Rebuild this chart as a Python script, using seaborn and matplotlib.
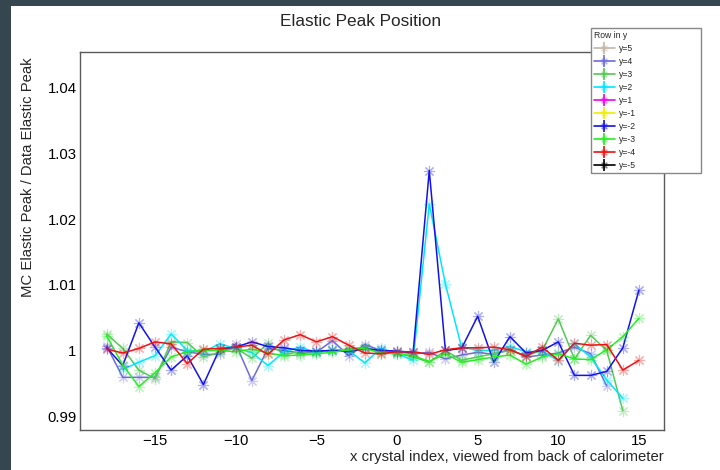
import matplotlib
matplotlib.use("Agg")
import matplotlib.pyplot as plt
import seaborn as sns
from matplotlib.colors import to_rgba
from matplotlib.lines import Line2D
from matplotlib.patches import Rectangle
from matplotlib.ticker import MultipleLocator, FuncFormatter
from matplotlib.legend_handler import HandlerTuple

# ---- data: MC / data elastic peak ratio per crystal, one list per row ----
rows = ["y=5", "y=4", "y=3", "y=2", "y=1", "y=-1", "y=-2", "y=-3", "y=-4", "y=-5"]
row_colors = ["#c4b6a6", "#6b6be0", "#55c855", "#00e6ff", "#ee00ee",
              "#eeee00", "#1212ee", "#22ee22", "#ee1111", "#000000"]

x_row5 = []
ratio_row5 = []

x_row4 = list(range(-18, 14))
ratio_row4 = [1.0007, 0.9959, 0.9959, 0.9959, 1.0005, 0.9998, 0.9994, 0.9994,
              1.0010, 0.9954, 1.0003, 1.0000, 0.9996, 0.9997, 1.0015, 0.9992,
              1.0009, 1.0000, 0.9998, 0.9995, 0.9997, 0.9987, 0.9993, 0.9997,
              0.9994, 1.0002, 0.9990, 0.9993, 0.9996, 1.0005, 0.9995, 0.9946]

x_row3 = list(range(-18, 15))
ratio_row3 = [1.0025, 1.0003, 0.9970, 0.9957, 1.0013, 1.0012, 0.9990, 0.9997,
              1.0004, 0.9988, 1.0011, 0.9994, 0.9998, 0.9998, 1.0000, 1.0002,
              1.0005, 0.9998, 0.9996, 0.9990, 0.9982, 1.0000, 0.9985, 0.9990,
              0.9995, 1.0000, 0.9992, 1.0000, 1.0048, 0.9987, 1.0023, 1.0000,
              0.9908]

x_row2 = list(range(-17, 15))
ratio_row2 = [0.9971, 0.9982, 0.9992, 1.0025, 1.0000, 0.9998, 1.0010, 1.0003,
              0.9997, 0.9977, 0.9998, 1.0005, 0.9997, 1.0000, 1.0000, 0.9981,
              1.0003, 0.9995, 0.9985, 1.0223, 1.0101, 1.0005, 1.0000, 1.0000,
              1.0006, 0.9998, 0.9999, 0.9984, 1.0010, 0.9990, 0.9955, 0.9927]

x_row1 = []
ratio_row1 = []

x_rowm1 = []
ratio_rowm1 = []

x_rowm2 = list(range(-18, 16))
ratio_rowm2 = [1.0004, 0.9977, 1.0042, 1.0005, 0.9970, 0.9992, 0.9948, 1.0002,
               1.0005, 1.0013, 1.0006, 1.0004, 1.0000, 0.9999, 1.0000, 0.9998,
               1.0003, 1.0000, 0.9999, 0.9997, 1.0274, 1.0000, 1.0003, 1.0052,
               0.9982, 1.0021, 0.9996, 1.0000, 1.0013, 0.9962, 0.9962, 0.9968,
               1.0004, 1.0092]

x_rowm3 = list(range(-18, 16))
ratio_rowm3 = [1.0022, 0.9978, 0.9945, 0.9966, 0.9990, 0.9998, 1.0000, 1.0000,
               0.9998, 1.0002, 0.9996, 0.9992, 0.9993, 0.9995, 0.9997, 1.0001,
               1.0003, 0.9996, 0.9995, 0.9992, 0.9983, 0.9995, 0.9982, 0.9986,
               0.9990, 0.9993, 0.9979, 0.9990, 0.9995, 0.9987, 0.9986, 1.0001,
               1.0021, 1.0049]

x_rowm4 = list(range(-18, 16))
ratio_rowm4 = [1.0002, 0.9996, 1.0003, 1.0013, 1.0010, 0.9980, 1.0002, 1.0003,
               1.0005, 1.0008, 0.9994, 1.0016, 1.0024, 1.0013, 1.0021, 1.0008,
               0.9996, 0.9995, 0.9998, 0.9998, 0.9994, 1.0001, 1.0004, 1.0004,
               1.0005, 1.0001, 0.9991, 1.0005, 0.9985, 1.0011, 1.0008, 1.0009,
               0.9970, 0.9985]

x_rowm5 = []
ratio_rowm5 = []

series_x = [x_row5, x_row4, x_row3, x_row2, x_row1,
            x_rowm1, x_rowm2, x_rowm3, x_rowm4, x_rowm5]
series_y = [ratio_row5, ratio_row4, ratio_row3, ratio_row2, ratio_row1,
            ratio_rowm1, ratio_rowm2, ratio_rowm3, ratio_rowm4, ratio_rowm5]

# ---- styling ----
sns.set_style("white")
plt.rcParams["font.family"] = ["Liberation Sans", "DejaVu Sans"]

W, H = 720, 470
fig = plt.figure(figsize=(W / 100, H / 100), dpi=100, facecolor="#36464f")
fig.add_artist(Rectangle((11 / W, 0), 1 - 11 / W, 1 - 6 / H,
                         transform=fig.transFigure, facecolor="white",
                         edgecolor="none", zorder=-10))

ax_left, ax_right, ax_top, ax_bottom = 80, 664, 52, 430
ax = fig.add_axes([ax_left / W, 1 - ax_bottom / H,
                   (ax_right - ax_left) / W, (ax_bottom - ax_top) / H])
ax.set_facecolor("white")

star = (8, 2, 0)
for xs, ys, c in zip(series_x, series_y, row_colors):
    if len(xs) == 0:
        continue
    sns.lineplot(x=xs, y=ys, ax=ax, color=c, lw=1.1, marker=star,
                 markersize=8, mec=to_rgba(c, 0.35), mew=0.8,
                 sort=False, estimator=None, legend=False)

ax.set_xlim(-19.65, 16.55)
ax.set_ylim(0.98788, 1.04545)

frame_col = "#5a5a5a"
for s in ax.spines.values():
    s.set_color(frame_col)
    s.set_linewidth(1.0)

ax.xaxis.set_major_locator(MultipleLocator(5))
ax.xaxis.set_minor_locator(MultipleLocator(1))
ax.yaxis.set_major_locator(MultipleLocator(0.01))
ax.yaxis.set_minor_locator(MultipleLocator(0.002))
ax.yaxis.set_major_formatter(FuncFormatter(lambda v, p: f"{round(v, 4):g}"))

ax.tick_params(which="both", direction="in", color=frame_col, width=1,
               top=False, right=False, labelsize=10.7, labelcolor="black")
ax.tick_params(axis="x", which="major", length=8.6, pad=3)
ax.tick_params(axis="x", which="minor", length=4.3)
ax.tick_params(axis="y", which="major", length=13, pad=2.5)
ax.tick_params(axis="y", which="minor", length=7)

ax.set_xlabel("x crystal index, viewed from back of calorimeter",
              fontsize=10.7, loc="right")
ax.xaxis.set_label_coords(1.0, -0.053)
ax.set_ylabel("MC Elastic Peak / Data Elastic Peak", fontsize=10.7, loc="top")
ax.yaxis.set_label_coords(-0.077, 0.985)

fig.text(361 / W, 1 - 21 / H, "Elastic Peak Position", ha="center",
         va="center", fontsize=12.4)

# legend with marker + error-bar glyph per row
handles = []
for c in row_colors:
    ln = Line2D([0], [0], color=c, lw=1.2, marker=star, markersize=5.5,
                mec=to_rgba(c, 0.5), mew=0.8)
    eb = Line2D([0], [0], ls="none", marker="|", markersize=8, mew=1.2,
                color=c)
    handles.append((ln, eb))

leg_l, leg_r, leg_t = 591, 701, 28
leg = fig.legend(handles, rows, loc="upper left",
                 bbox_to_anchor=(leg_l / W, 0, (leg_r - leg_l) / W, 1 - leg_t / H),
                 bbox_transform=fig.transFigure, mode="expand",
                 title="Row in y", title_fontsize=6.2, fontsize=6.2,
                 alignment="left", fancybox=False, framealpha=1,
                 edgecolor="#888888", borderpad=0.3, labelspacing=0.47,
                 handlelength=2.5, handletextpad=0.4, borderaxespad=0,
                 handler_map={tuple: HandlerTuple(ndivide=1)})
leg.get_frame().set_linewidth(1.0)

fig.savefig("out.png", dpi=100, facecolor=fig.get_facecolor())
